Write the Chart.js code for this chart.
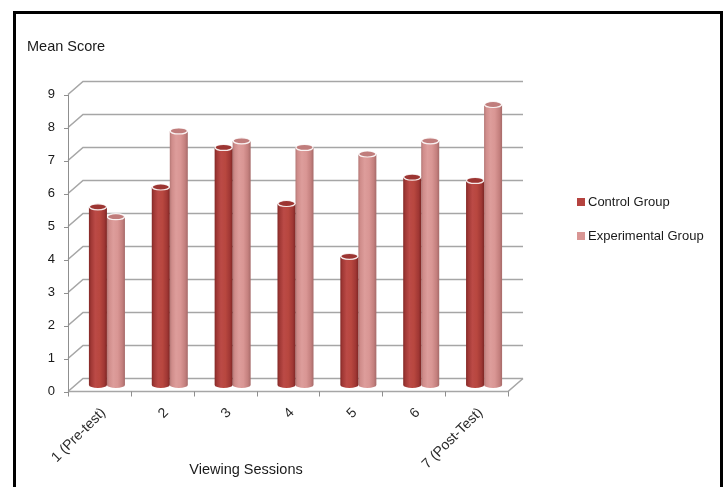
<!DOCTYPE html>
<html>
<head>
<meta charset="utf-8">
<script src="https://cdn.jsdelivr.net/npm/chart.js@4.4.1/dist/chart.umd.min.js"></script>
<style>
  html, body { margin: 0; padding: 0; background: #fff; }
  #wrap { position: relative; width: 724px; height: 487px; overflow: hidden; }
  #c { position: absolute; left: 0; top: 0; }
  #frame { position: absolute; left: 13px; top: 11px; width: 704px; height: 520px;
           border: 3px solid #000; border-bottom: none; pointer-events: none; }
</style>
</head>
<body>
<div id="wrap">
  <canvas id="c" width="724" height="487"></canvas>
  <div id="frame"></div>
</div>
<script>
// Viewing sessions and mean scores per group
const sessions = ['1 (Pre-test)', '2', '3', '4', '5', '6', '7 (Post-Test)'];
const controlGroup = [5.4, 6.0, 7.2, 5.5, 3.9, 6.3, 6.2];
const experimentalGroup = [5.1, 7.7, 7.4, 7.2, 7.0, 7.4, 8.5];
const yTickValues = [0, 1, 2, 3, 4, 5, 6, 7, 8, 9];

// Depth of the 3D box: back wall is shifted by (DX, DY) from the front plane
const DX = 15, DY = -13;
const FONT = "'Liberation Sans', Arial, sans-serif";

// Cylinder shading per series: horizontal gradient stops + cap colour
const shades = {
  control: {
    legend: '#B5433F',
    stops: [[0, '#832826'], [0.12, '#a03835'], [0.35, '#bb4a46'], [0.6, '#b8473f'], [0.85, '#a03734'], [1, '#7e2624']],
    cap: '#9c3532'
  },
  experimental: {
    legend: '#D99694',
    stops: [[0, '#b47876'], [0.12, '#d08d8b'], [0.35, '#dd9d9b'], [0.6, '#d99694'], [0.85, '#c4807e'], [1, '#a66a69']],
    cap: '#c07d7c'
  }
};

function drawCylinder(ctx, cx, top, base, w, shade) {
  const rx = w / 2, ry = 3;
  const g = ctx.createLinearGradient(cx - rx, 0, cx + rx, 0);
  shade.stops.forEach(([o, c]) => g.addColorStop(o, c));
  ctx.beginPath();
  ctx.moveTo(cx - rx, top);
  ctx.lineTo(cx - rx, base);
  ctx.ellipse(cx, base, rx, ry, 0, Math.PI, 0, true);
  ctx.lineTo(cx + rx, top);
  ctx.ellipse(cx, top, rx, ry, 0, 0, Math.PI, false);
  ctx.closePath();
  ctx.fillStyle = g;
  ctx.fill();
  // top cap
  ctx.beginPath();
  ctx.ellipse(cx, top, rx - 0.5, ry, 0, 0, Math.PI * 2);
  ctx.fillStyle = shade.cap;
  ctx.fill();
  ctx.strokeStyle = 'rgba(255,255,255,0.85)';
  ctx.lineWidth = 1.2;
  ctx.stroke();
}

const scene3d = {
  id: 'scene3d',
  beforeDatasetsDraw(chart) {
    const { ctx, chartArea: a, scales: { x, y } } = chart;
    ctx.save();
    // side wall diagonals and back wall gridlines
    ctx.strokeStyle = '#a6a6a6';
    ctx.lineWidth = 1.6;
    yTickValues.forEach(v => {
      const py = y.getPixelForValue(v);
      ctx.beginPath();
      ctx.moveTo(a.left, py);
      ctx.lineTo(a.left + DX, py + DY);
      ctx.lineTo(a.right + DX, py + DY);
      ctx.stroke();
    });
    // front value axis with tick marks
    ctx.strokeStyle = '#8f8f8f';
    ctx.lineWidth = 1;
    const y0 = y.getPixelForValue(0), y9 = y.getPixelForValue(9);
    ctx.beginPath();
    ctx.moveTo(a.left + 0.5, y9);
    ctx.lineTo(a.left + 0.5, y0);
    yTickValues.forEach(v => {
      const py = Math.round(y.getPixelForValue(v)) + 0.5;
      ctx.moveTo(a.left - 4, py);
      ctx.lineTo(a.left + 0.5, py);
    });
    ctx.stroke();
    // floor front edge, right edge and category boundary ticks
    ctx.strokeStyle = '#a6a6a6';
    ctx.lineWidth = 1.6;
    ctx.beginPath();
    ctx.moveTo(a.left, y0);
    ctx.lineTo(a.right, y0);
    ctx.lineTo(a.right + DX, y0 + DY);
    ctx.stroke();
    ctx.strokeStyle = '#8f8f8f';
    ctx.lineWidth = 1;
    ctx.beginPath();
    const n = sessions.length;
    for (let i = 0; i <= n; i++) {
      let bx;
      if (i === 0) bx = a.left;
      else if (i === n) bx = a.right;
      else bx = (x.getPixelForValue(i - 1) + x.getPixelForValue(i)) / 2;
      bx = Math.round(bx) + 0.5;
      ctx.moveTo(bx, y0);
      ctx.lineTo(bx, y0 + 5);
    }
    ctx.stroke();
    ctx.restore();
  },
  beforeDatasetDraw(chart, args) {
    const ctx = chart.ctx;
    const ds = chart.data.datasets[args.index];
    ctx.save();
    args.meta.data.forEach(bar => {
      const p = bar.getProps(['x', 'y', 'base', 'width'], true);
      drawCylinder(ctx, p.x + DX / 2, p.y + DY / 2, p.base + DY / 2, p.width, ds.shade);
    });
    ctx.restore();
    return false;
  },
  afterDraw(chart) {
    const ctx = chart.ctx;
    ctx.save();
    ctx.fillStyle = '#1a1a1a';
    ctx.font = '14.5px ' + FONT;
    ctx.textBaseline = 'middle';
    ctx.textAlign = 'left';
    ctx.fillText('Mean Score', 27, 47);
    ctx.textAlign = 'center';
    ctx.fillText('Viewing Sessions', 246, 470);
    // legend
    ctx.font = '13px ' + FONT;
    ctx.textAlign = 'left';
    chart.data.datasets.forEach((ds, i) => {
      const ly = 202 + i * 34;
      ctx.fillStyle = ds.shade.legend;
      ctx.fillRect(577, ly - 4, 8, 8);
      ctx.fillStyle = '#1a1a1a';
      ctx.fillText(ds.label, 588, ly);
    });
    ctx.restore();
  }
};

new Chart(document.getElementById('c'), {
  type: 'bar',
  data: {
    labels: sessions,
    datasets: [
      { label: 'Control Group', data: controlGroup, shade: shades.control, backgroundColor: shades.control.legend },
      { label: 'Experimental Group', data: experimentalGroup, shade: shades.experimental, backgroundColor: shades.experimental.legend }
    ]
  },
  options: {
    responsive: false,
    animation: false,
    events: [],
    layout: { padding: { left: 0, top: 94.5, right: 216, bottom: 0 } },
    categoryPercentage: 0.573,
    barPercentage: 1.0,
    plugins: { legend: { display: false }, tooltip: { enabled: false } },
    scales: {
      x: {
        grid: { display: false, drawTicks: false },
        border: { display: false },
        ticks: { minRotation: 45, maxRotation: 45, padding: 13, labelOffset: 4, color: '#2a2a2a', font: { family: FONT, size: 14 } },
        afterFit(scale) { scale.height = 95.5; }
      },
      y: {
        min: 0, max: 9,
        grid: { display: false, drawTicks: false },
        border: { display: false },
        ticks: { stepSize: 1, padding: 13, color: '#1a1a1a', font: { family: FONT, size: 13 } },
        afterFit(scale) { scale.width = 68; }
      }
    }
  },
  plugins: [scene3d]
});
</script>
</body>
</html>
